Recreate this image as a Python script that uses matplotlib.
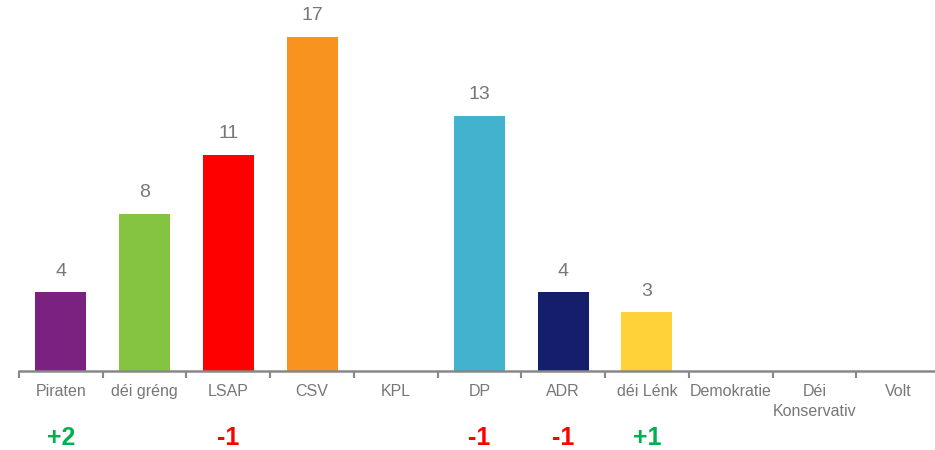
import matplotlib
matplotlib.use("Agg")
import matplotlib.pyplot as plt
import matplotlib.transforms as mtransforms
import numpy as np

plt.rcParams["font.family"] = ["Liberation Sans", "DejaVu Sans"]

# ── Data ─────────────────────────────────────────────────────────────────
parties = ["Piraten", "déi gréng", "LSAP", "CSV", "KPL", "DP", "ADR",
           "déi Lénk", "Demokratie", "Déi\nKonservativ", "Volt"]
seats = [4, 8, 11, 17, 0, 13, 4, 3, 0, 0, 0]
changes = ["+2", "", "-1", "", "", "-1", "-1", "+1", "", "", ""]
colors = ["#7B2180", "#84C441", "#FF0000", "#F7931E", "#BBBBBB", "#41B3CE",
          "#141E6A", "#FFD23A", "#BBBBBB", "#BBBBBB", "#BBBBBB"]

GRAY = "#777777"
AXIS = "#888888"
GREEN = "#00B050"
RED = "#FF0000"

W, H = 935, 450
fig = plt.figure(figsize=(W / 100, H / 100), dpi=100)
ax = fig.add_axes([19 / W, 79 / H, 921 / W, 371 / H])

x = np.arange(len(parties))
ax.bar(x, seats, width=0.61, color=colors, zorder=2)

ax.set_xlim(-0.5, len(parties) - 0.5)
ax.set_ylim(0, 371 / 19.65)

# value labels above non-empty bars
for xi, v in zip(x, seats):
    if v > 0:
        ax.annotate(str(v), (xi, v), xytext=(0, 9), textcoords="offset points",
                    ha="center", va="bottom", fontsize=14, color=GRAY)

# axis styling
for s in ["top", "right", "left"]:
    ax.spines[s].set_visible(False)
ax.spines["bottom"].set_color(AXIS)
ax.spines["bottom"].set_linewidth(1.8)
ax.set_yticks([])

ax.set_xticks(x)
ax.set_xticklabels(parties, fontsize=11.5, color=GRAY, linespacing=1.4)
ax.tick_params(axis="x", which="major", length=0, pad=9.5)
ax.set_xticks(np.arange(-0.5, len(parties)), minor=True)
ax.tick_params(axis="x", which="minor", length=5, width=1.5, color=AXIS)

# seat change labels, at a fixed height in the figure
trans = mtransforms.blended_transform_factory(ax.transData, fig.transFigure)
for xi, c in zip(x, changes):
    if c:
        col = GREEN if c.startswith("+") else RED
        ax.text(xi, (H - 426) / H, c, transform=trans,
                ha="center", va="top", fontsize=18, fontweight="bold",
                color=col)

fig.savefig("out.png", dpi=100)
